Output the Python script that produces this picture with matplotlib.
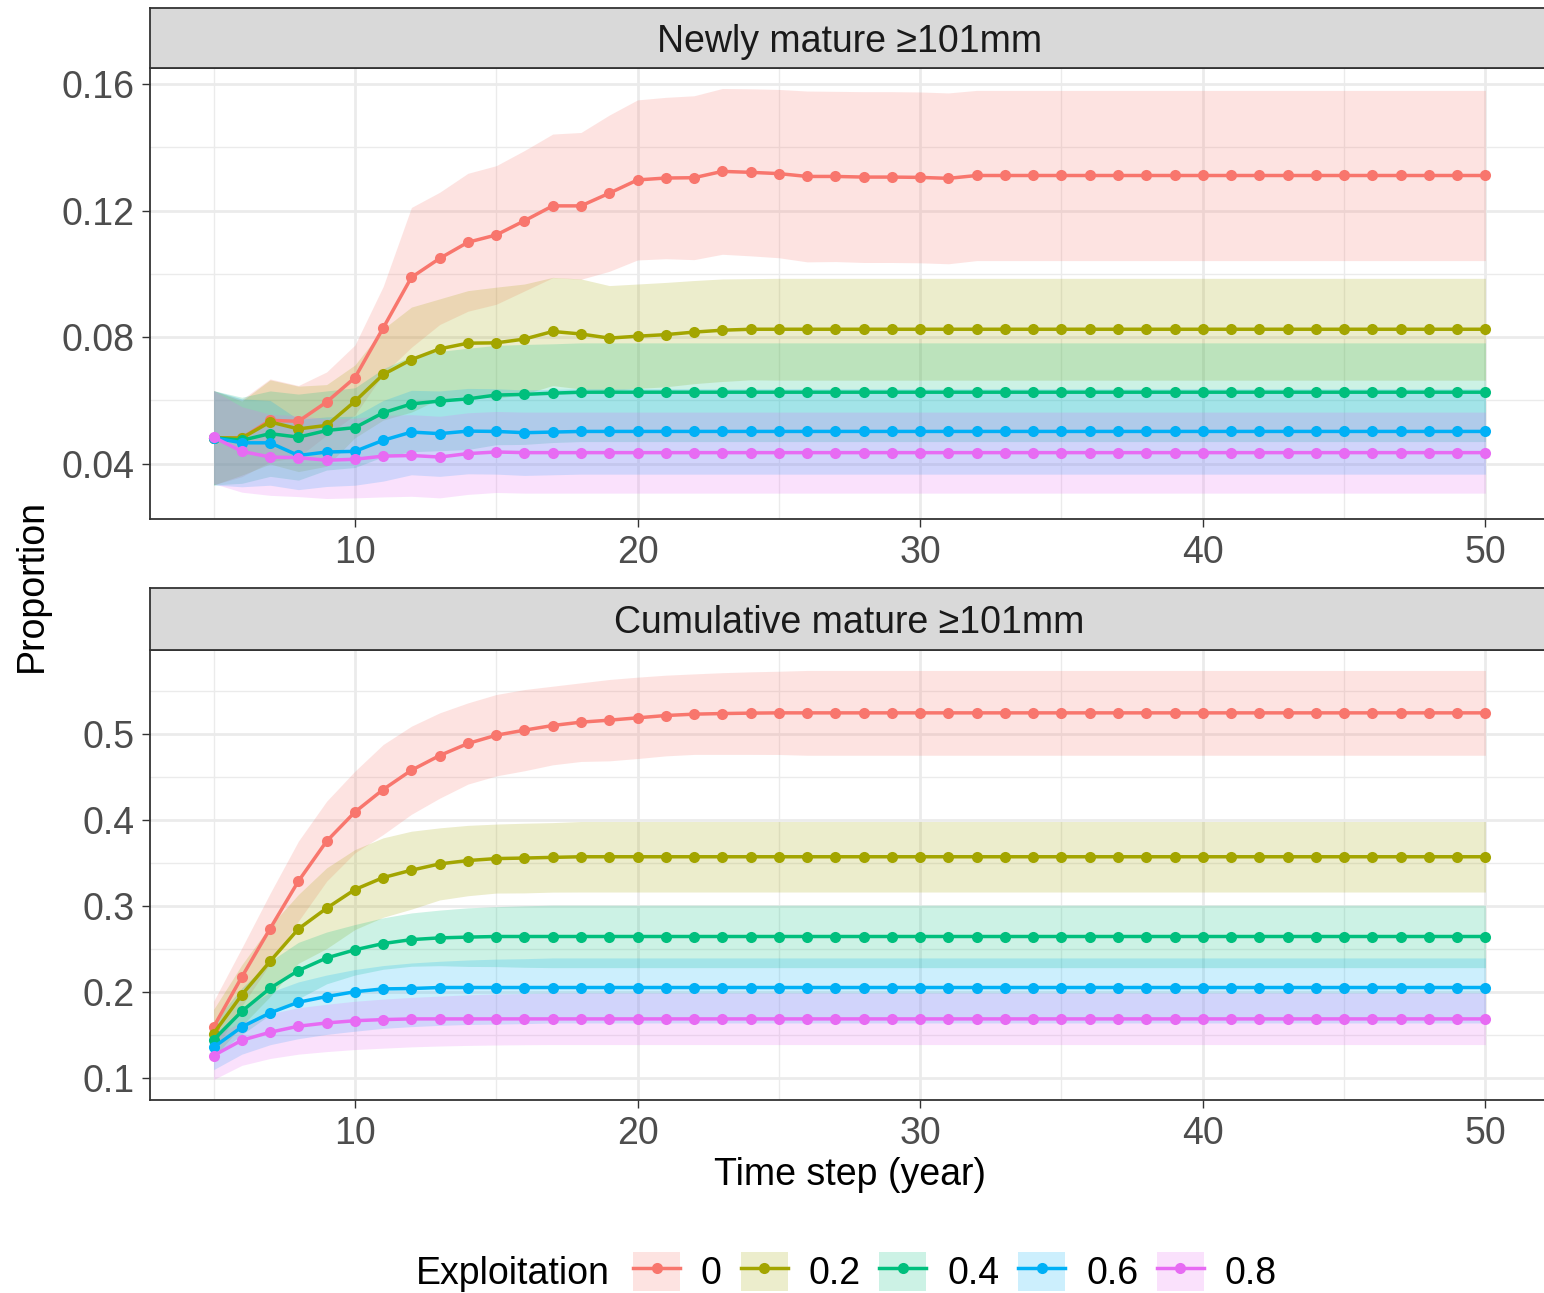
import matplotlib
matplotlib.use("Agg")
import matplotlib.pyplot as plt
from matplotlib.patches import Patch
from matplotlib.lines import Line2D
from matplotlib.legend_handler import HandlerTuple
from matplotlib.ticker import FixedLocator, FormatStrFormatter

plt.rcParams["font.family"] = ["Liberation Sans", "DejaVu Sans"]

# ---------------------------------------------------------------- data
years = list(range(5, 51))
levels = ["0", "0.2", "0.4", "0.6", "0.8"]
colors = ["#F8766D", "#A3A500", "#00BF7D", "#00B0F6", "#E76BF3"]

# Newly mature >=101 mm: mean proportion and ribbon bounds per exploitation rate
new_mean_0 = [0.0482, 0.0481, 0.0537, 0.0534, 0.0595, 0.0672, 0.0829, 0.0989, 0.1049, 0.1100,
              0.1123, 0.1168, 0.1215, 0.1215, 0.1255, 0.1297, 0.1303, 0.1304, 0.1324, 0.1321,
              0.1317, 0.1308, 0.1308, 0.1306, 0.1306, 0.1305, 0.1302] + [0.1311] * 19
new_hi_0 = [0.0631, 0.0603, 0.0668, 0.0647, 0.0690, 0.0775, 0.0960, 0.1210, 0.1258, 0.1318,
            0.1342, 0.1390, 0.1442, 0.1447, 0.1502, 0.1550, 0.1558, 0.1563, 0.1586, 0.1585,
            0.1583, 0.1578, 0.1577, 0.1576, 0.1576, 0.1575, 0.1572] + [0.1580] * 19
new_lo_0 = [0.0333, 0.0359, 0.0406, 0.0421, 0.0490, 0.0554, 0.0683, 0.0768, 0.0840, 0.0882,
            0.0904, 0.0946, 0.0988, 0.0983, 0.1008, 0.1044, 0.1048, 0.1045, 0.1062, 0.1057,
            0.1051, 0.1038, 0.1039, 0.1036, 0.1036, 0.1035, 0.1032] + [0.1042] * 19

new_mean_2 = [0.0482, 0.0481, 0.0532, 0.0510, 0.0521, 0.0597, 0.0682, 0.0729, 0.0763, 0.0781,
              0.0782, 0.0794, 0.0818, 0.0810, 0.0797, 0.0803, 0.0808, 0.0816, 0.0822, 0.0825] + [0.0825] * 26
new_hi_2 = [0.0631, 0.0598, 0.0665, 0.0645, 0.0650, 0.0712, 0.0826, 0.0895, 0.0921, 0.0947,
            0.0958, 0.0968, 0.0989, 0.0984, 0.0963, 0.0968, 0.0973, 0.0979, 0.0984, 0.0985] + [0.0986] * 26
new_lo_2 = [0.0333, 0.0364, 0.0399, 0.0375, 0.0392, 0.0482, 0.0538, 0.0563, 0.0605, 0.0615,
            0.0606, 0.0620, 0.0647, 0.0636, 0.0631, 0.0638, 0.0643, 0.0653, 0.0660, 0.0665] + [0.0664] * 26

new_mean_4 = [0.0482, 0.0474, 0.0495, 0.0484, 0.0505, 0.0514, 0.0561, 0.0589, 0.0598, 0.0605,
              0.0617, 0.0619, 0.0623] + [0.0626] * 33
new_hi_4 = [0.0631, 0.0610, 0.0630, 0.0620, 0.0630, 0.0640, 0.0700, 0.0740, 0.0755, 0.0765,
            0.0774, 0.0777, 0.0779] + [0.0782] * 33
new_lo_4 = [0.0333, 0.0338, 0.0360, 0.0348, 0.0380, 0.0388, 0.0422, 0.0438, 0.0441, 0.0445,
            0.0460, 0.0461, 0.0467] + [0.0470] * 33

new_mean_6 = [0.0482, 0.0466, 0.0466, 0.0426, 0.0437, 0.0439, 0.0474, 0.0500, 0.0495, 0.0503,
              0.0502, 0.0498, 0.0500] + [0.0502] * 33
new_hi_6 = [0.0631, 0.0605, 0.0600, 0.0540, 0.0548, 0.0550, 0.0600, 0.0632, 0.0630, 0.0638,
            0.0637, 0.0633, 0.0635] + [0.0637] * 33
new_lo_6 = [0.0333, 0.0327, 0.0332, 0.0318, 0.0328, 0.0332, 0.0345, 0.0365, 0.0360, 0.0368,
            0.0367, 0.0363, 0.0365] + [0.0367] * 33

new_mean_8 = [0.0484, 0.0439, 0.0421, 0.0419, 0.0411, 0.0414, 0.0424, 0.0426, 0.0421, 0.0432,
              0.0437, 0.0435] + [0.0435] * 34
new_hi_8 = [0.0631, 0.0580, 0.0556, 0.0552, 0.0542, 0.0544, 0.0553, 0.0555, 0.0550, 0.0561,
            0.0565, 0.0563] + [0.0563] * 34
new_lo_8 = [0.0337, 0.0310, 0.0300, 0.0296, 0.0290, 0.0292, 0.0295, 0.0297, 0.0292, 0.0303,
            0.0309, 0.0307] + [0.0307] * 34

# Cumulative mature >=101 mm
cum_mean_0 = [0.1597, 0.2178, 0.2740, 0.3291, 0.3756, 0.4095, 0.4357, 0.4581, 0.4752, 0.4892,
              0.4988, 0.5047, 0.5101, 0.5140, 0.5163, 0.5190, 0.5217, 0.5233, 0.5240, 0.5245] + [0.5248] * 26
cum_hi_0 = [0.1895, 0.2516, 0.3150, 0.3756, 0.4221, 0.4570, 0.4880, 0.5093, 0.5248, 0.5364,
            0.5461, 0.5519, 0.5558, 0.5597, 0.5636, 0.5663, 0.5686, 0.5701, 0.5715, 0.5725,
            0.5732] + [0.5741] * 25
cum_lo_0 = [0.1299, 0.1840, 0.2330, 0.2826, 0.3291, 0.3620, 0.3834, 0.4069, 0.4256, 0.4420,
            0.4515, 0.4575, 0.4644, 0.4683, 0.4690, 0.4717, 0.4748, 0.4765, 0.4765, 0.4765,
            0.4764] + [0.4755] * 25

cum_mean_2 = [0.1520, 0.1970, 0.2360, 0.2736, 0.2977, 0.3194, 0.3333, 0.3419, 0.3492, 0.3531,
              0.3554, 0.3560, 0.3568] + [0.3575] * 33
cum_hi_2 = [0.1800, 0.2320, 0.2770, 0.3136, 0.3446, 0.3659, 0.3795, 0.3872, 0.3911, 0.3940,
            0.3955, 0.3965, 0.3972] + [0.3985] * 33
cum_lo_2 = [0.1240, 0.1610, 0.1950, 0.2336, 0.2508, 0.2729, 0.2871, 0.2966, 0.3073, 0.3122,
            0.3153, 0.3155, 0.3164] + [0.3165] * 33

cum_mean_4 = [0.1446, 0.1779, 0.2047, 0.2252, 0.2399, 0.2493, 0.2566, 0.2612, 0.2632, 0.2641] + [0.2648] * 36
cum_hi_4 = [0.1650, 0.2050, 0.2360, 0.2580, 0.2700, 0.2787, 0.2865, 0.2922, 0.2955, 0.2981,
            0.2995, 0.3005] + [0.3012] * 34
cum_lo_4 = [0.1250, 0.1508, 0.1740, 0.1924, 0.2098, 0.2200, 0.2267, 0.2302, 0.2309, 0.2300,
            0.2298, 0.2290] + [0.2286] * 34

cum_mean_6 = [0.1360, 0.1597, 0.1760, 0.1884, 0.1950, 0.2006, 0.2039, 0.2043] + [0.2055] * 38
cum_hi_6 = [0.1500, 0.1800, 0.2000, 0.2120, 0.2200, 0.2264, 0.2310, 0.2340, 0.2360, 0.2375,
            0.2385, 0.2390] + [0.2399] * 34
cum_lo_6 = [0.1100, 0.1280, 0.1390, 0.1460, 0.1510, 0.1547, 0.1580, 0.1600, 0.1615, 0.1625,
            0.1630, 0.1635] + [0.1643] * 34

cum_mean_8 = [0.1264, 0.1442, 0.1535, 0.1605, 0.1643, 0.1669, 0.1682] + [0.1690] * 39
cum_hi_8 = [0.1500, 0.1650, 0.1750, 0.1820, 0.1860, 0.1895, 0.1920, 0.1940, 0.1955, 0.1970,
            0.1980, 0.1985] + [0.1992] * 34
cum_lo_8 = [0.0985, 0.1150, 0.1230, 0.1280, 0.1310, 0.1334, 0.1350, 0.1365, 0.1375, 0.1382,
            0.1387, 0.1390] + [0.1392] * 34

new_series = [(new_mean_0, new_lo_0, new_hi_0), (new_mean_2, new_lo_2, new_hi_2),
              (new_mean_4, new_lo_4, new_hi_4), (new_mean_6, new_lo_6, new_hi_6),
              (new_mean_8, new_lo_8, new_hi_8)]
cum_series = [(cum_mean_0, cum_lo_0, cum_hi_0), (cum_mean_2, cum_lo_2, cum_hi_2),
              (cum_mean_4, cum_lo_4, cum_hi_4), (cum_mean_6, cum_lo_6, cum_hi_6),
              (cum_mean_8, cum_lo_8, cum_hi_8)]

x_major = [10, 20, 30, 40, 50]
x_minor = [5, 15, 25, 35, 45]
new_yticks = [0.04, 0.08, 0.12, 0.16]
new_yminor = [0.06, 0.10, 0.14]
cum_yticks = [0.1, 0.2, 0.3, 0.4, 0.5]
cum_yminor = [0.15, 0.25, 0.35, 0.45, 0.55]

# ---------------------------------------------------------------- layout
W, H = 1544, 1293
fig = plt.figure(figsize=(W / 100, H / 100), dpi=100)


def box(x0, y0, x1, y1):
    return [x0 / W, 1 - y1 / H, (x1 - x0) / W, (y1 - y0) / H]


GRID = "#EBEBEB"
DARK = "#333333"
TICKTXT = "#4D4D4D"
FS = 27
LW = 2.5
MS = 8.0


def draw_panel(panel_box, strip_box, title, series, yticks, yminor, fmt):
    ax = fig.add_axes(box(*panel_box))
    for (mean, lo, hi), c in zip(series, colors):
        ax.fill_between(years, lo, hi, color=c, alpha=0.2, linewidth=0, zorder=2)
    for (mean, lo, hi), c in zip(series, colors):
        ax.plot(years, mean, color=c, lw=LW, marker="o", ms=MS,
                markeredgewidth=0, zorder=3)

    # ggplot-style limits: 5% expansion around the data
    xmin, xmax = min(years), max(years)
    xpad = 0.05 * (xmax - xmin)
    ax.set_xlim(xmin - xpad, xmax + xpad)
    ylo = min(min(s[1]) for s in series)
    yhi = max(max(s[2]) for s in series)
    ypad = 0.05 * (yhi - ylo)
    ax.set_ylim(ylo - ypad, yhi + ypad)

    ax.xaxis.set_major_locator(FixedLocator(x_major))
    ax.xaxis.set_minor_locator(FixedLocator(x_minor))
    ax.yaxis.set_major_locator(FixedLocator(yticks))
    ax.yaxis.set_minor_locator(FixedLocator(yminor))
    ax.yaxis.set_major_formatter(FormatStrFormatter(fmt))
    ax.grid(which="major", color=GRID, lw=2.0, zorder=0)
    ax.grid(which="minor", color=GRID, lw=1.0, zorder=0)
    ax.set_axisbelow(True)
    ax.tick_params(which="major", length=5.8, width=1.0, color=DARK,
                   labelsize=FS, labelcolor=TICKTXT, pad=5.5)
    ax.tick_params(which="minor", length=0)
    for s in ax.spines.values():
        s.set_color(DARK)
        s.set_linewidth(1.3)

    sax = fig.add_axes(box(*strip_box))
    sax.set_facecolor("#D9D9D9")
    sax.set_xticks([])
    sax.set_yticks([])
    for s in sax.spines.values():
        s.set_color(DARK)
        s.set_linewidth(1.3)
    sax.text(0.5, 0.44, title, ha="center", va="center", fontsize=FS,
             color="#1A1A1A", transform=sax.transAxes)
    return ax


ax1 = draw_panel((150, 68, 1549, 519), (150, 8, 1549, 68), "Newly mature \u2265101mm",
                 new_series, new_yticks, new_yminor, "%.2f")
ax2 = draw_panel((150, 650, 1549, 1100), (150, 588, 1549, 650), "Cumulative mature \u2265101mm",
                 cum_series, cum_yticks, cum_yminor, "%.1f")

ax2.set_xlabel("Time step (year)", fontsize=FS, color="black", labelpad=4)
fig.text(32 / W, 1 - 585 / H, "Proportion", rotation=90, ha="center", va="center",
         fontsize=FS, color="black")

# ---------------------------------------------------------------- legend
handles = [(Patch(facecolor=c, alpha=0.2, linewidth=0),
            Line2D([], [], color=c, lw=LW, marker="o", ms=MS, markeredgewidth=0))
           for c in colors]
leg = fig.legend(handles, levels, loc="center", bbox_to_anchor=(955 / W, 1 - 1272 / H),
                 ncol=5, frameon=False, fontsize=FS, handlelength=1.25, handleheight=1.25,
                 handletextpad=0.56, columnspacing=0.5, numpoints=1, borderpad=0.2,
                 handler_map={tuple: HandlerTuple(ndivide=1)})

# legend title placed to the left of the keys, on the same text line
fig.canvas.draw()
lab = leg.get_texts()[0].get_window_extent()
kb = leg.get_window_extent()
fig.text((kb.x0 - 16) / W, (lab.y0 + lab.y1) / 2 / H, "Exploitation", ha="right",
         va="center", fontsize=FS, color="black")

fig.savefig("out.png", dpi=100)
